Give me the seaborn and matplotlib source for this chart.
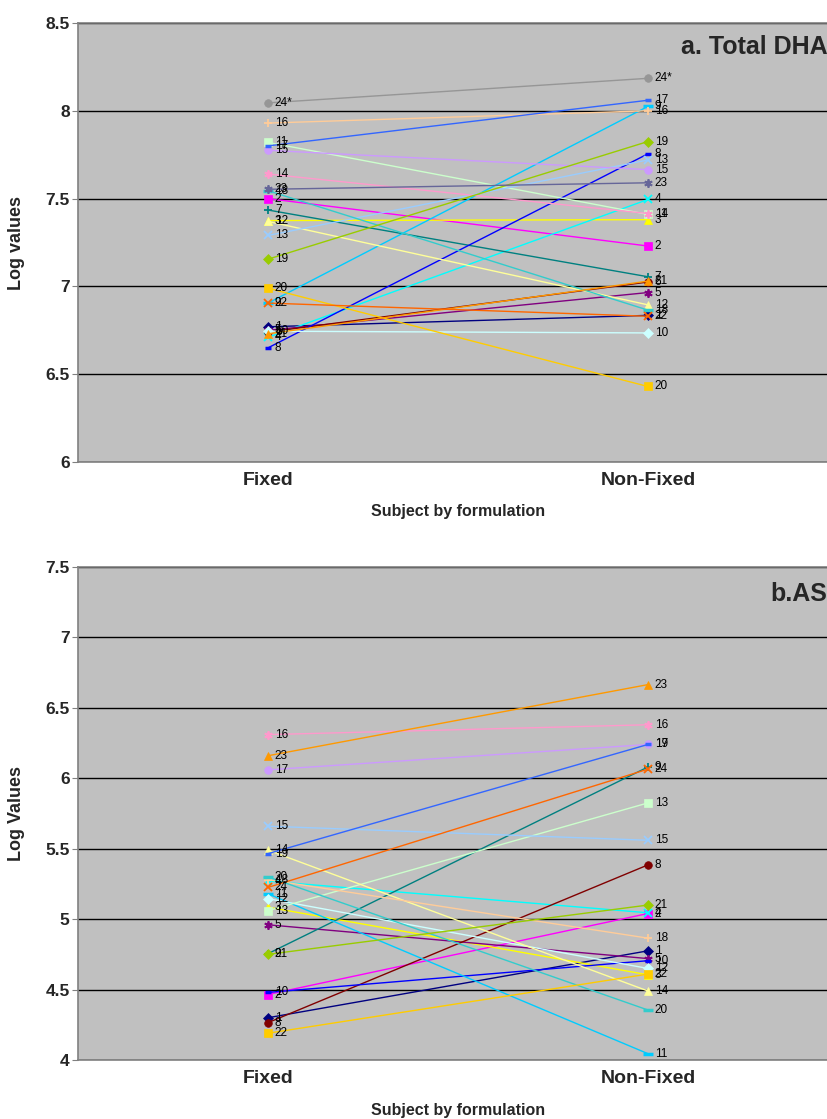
import numpy as np
import pandas as pd
import matplotlib
matplotlib.use('Agg')
import matplotlib.pyplot as plt
import seaborn as sns

sns.set_style('white')
plt.rcParams['font.family'] = ['Liberation Sans', 'DejaVu Sans']

# Excel-style series colours and marker cycle
excel_colors = ['#000080', '#FF00FF', '#FFFF00', '#00FFFF', '#800080', '#800000',
                '#008080', '#0000FF', '#00CCFF', '#CCFFFF', '#CCFFCC', '#FFFF99',
                '#99CCFF', '#FF99CC', '#CC99FF', '#FFCC99', '#3366FF', '#33CCCC',
                '#99CC00', '#FFCC00', '#FF9900', '#FF6600', '#666699', '#969696']
marker_cycle = ['D', 's', '^', 'x', (6, 2, 0), 'o', '+', '_', '_']

categories = ['Fixed', 'Non-Fixed']

# panel a: Total DHA
subjects_a = [str(i) for i in range(1, 24)] + ['24*']
fixed_a = [6.77, 7.50, 7.375, 6.71, 6.75, 6.74, 7.435, 6.65, 6.905, 6.745, 7.82, 7.37,
           7.29, 7.64, 7.775, 7.93, 7.80, 7.545, 7.155, 6.99, 6.73, 6.905, 7.553, 8.045]
nonfixed_a = [6.835, 7.23, 7.38, 7.495, 6.965, 7.025, 7.055, 7.755, 8.025, 6.735, 7.41, 6.895,
              7.72, 7.415, 7.665, 8.00, 8.06, 6.865, 7.825, 6.43, 7.03, 6.83, 7.59, 8.185]

# panel b: AS
subjects_b = ['1', '2', '3', '4', '5', '8', '9', '10', '11', '12', '13', '14', '15', '16',
              '17', '18', '19', '20', '21', '22', '23', '24']
fixed_b = [4.30, 4.465, 5.085, 5.27, 4.96, 4.265, 4.755, 4.48, 5.18, 5.145, 5.06, 5.49,
           5.66, 6.31, 6.06, 5.28, 5.465, 5.30, 4.75, 4.19, 6.16, 5.225]
nonfixed_b = [4.775, 5.04, 4.605, 5.045, 4.72, 5.385, 6.08, 4.705, 4.045, 4.65, 5.825, 4.49,
              5.56, 6.38, 6.24, 4.865, 6.24, 4.355, 5.10, 4.61, 6.665, 6.065]


def draw_panel(ax, subjects, fixed, nonfixed, ylim, title, ylabel):
    ax.set_facecolor('#C0C0C0')
    df = pd.DataFrame({'subject': np.repeat(subjects, 2),
                       'pos': np.tile([0, 1], len(subjects)),
                       'value': np.ravel(np.column_stack([fixed, nonfixed]))})
    for i, s in enumerate(subjects):
        sub = df[df['subject'] == s]
        c = excel_colors[i]
        m = marker_cycle[i % 9]
        ms, mew = 5.5, 0.5
        if m == 'D':
            ms = 5
        elif m in ('x', '+') or isinstance(m, tuple):
            ms, mew = 6, 1.3
        elif m == '_':
            ms = 7 if i % 9 == 8 else 5
            mew = 2.5
        sns.lineplot(data=sub, x='pos', y='value', color=c, marker=m,
                     markersize=ms, markeredgewidth=mew, markeredgecolor=c,
                     markerfacecolor=c, linewidth=1.0, ax=ax, legend=False,
                     estimator=None, sort=False)
        for x, y in zip(sub['pos'], sub['value']):
            ax.annotate(s, (x, y), xytext=(5, 0), textcoords='offset points',
                        va='center', ha='left', fontsize=8.5, color='black')
    ticks = np.arange(ylim[0], ylim[1] + 0.01, 0.5)
    ax.set_ylim(*ylim)
    ax.set_xlim(-0.5, 1.474)
    ax.set_yticks(ticks)
    ax.set_yticklabels([f'{v:g}' for v in ticks], fontweight='bold', fontsize=12.5)
    ax.grid(axis='y', color='black', linewidth=1.0)
    ax.set_axisbelow(True)
    ax.set_xticks([0, 1])
    ax.set_xticklabels(categories, fontweight='bold', fontsize=14)
    ax.set_xticks([0.5], minor=True)
    ax.tick_params(axis='x', which='major', length=0, pad=7)
    ax.tick_params(axis='x', which='minor', length=4, direction='out', color='#808080')
    ax.tick_params(axis='y', length=4, direction='out', color='#808080', left=True, pad=2)
    for side in ['left', 'top', 'bottom']:
        ax.spines[side].set_color('#808080')
        ax.spines[side].set_linewidth(1.2)
    ax.spines['right'].set_visible(False)
    ax.set_xlabel('Subject by formulation', fontweight='bold', fontsize=11.5)
    ax.set_ylabel(ylabel, fontweight='bold', fontsize=13)
    ax.yaxis.set_label_coords(-0.07, 0.5)
    ax.text(0.999, 0.945, title, transform=ax.transAxes, ha='right', va='center',
            fontweight='bold', fontsize=18)


fig = plt.figure(figsize=(8.28, 11.19), dpi=100)
ax1 = fig.add_axes([78 / 828, 1 - 462 / 1119, 750 / 828, 439 / 1119])
ax2 = fig.add_axes([78 / 828, 1 - 1060 / 1119, 750 / 828, 493 / 1119])

draw_panel(ax1, subjects_a, fixed_a, nonfixed_a, (6, 8.5), 'a. Total DHA', 'Log values')
draw_panel(ax2, subjects_b, fixed_b, nonfixed_b, (4, 7.5), 'b.AS', 'Log Values')
ax1.xaxis.set_label_coords(0.507, -0.096)
ax2.xaxis.set_label_coords(0.507, -0.088)

fig.savefig('out.png', dpi=100)
